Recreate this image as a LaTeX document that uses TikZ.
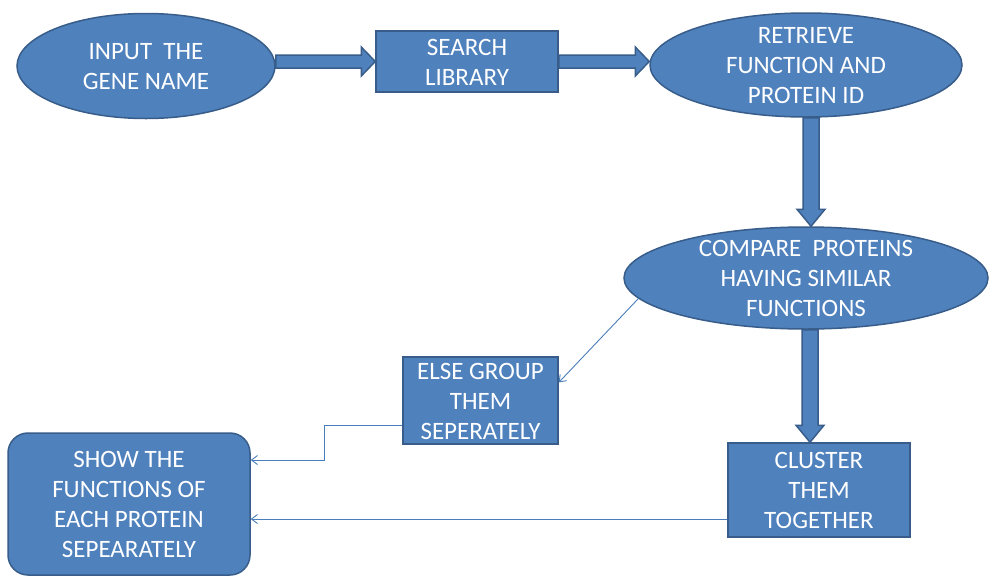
\documentclass[tikz,border=0pt]{standalone}
\usepackage{fontspec}
\setmainfont{Carlito}
\usetikzlibrary{shapes.geometric,arrows.meta,calc}

\definecolor{boxfill}{HTML}{4F81BD}
\definecolor{boxline}{HTML}{385D8A}
\definecolor{linkline}{HTML}{4A7EBB}

% centred multi-line label that does not enlarge its node
\newcommand\boxtext[1]{\makebox[0pt]{\raisebox{-8.8pt}[0pt][0pt]{\begin{tabular}{@{}c@{}}#1\end{tabular}}}}

% wide outlined block arrow pointing right, from #1 to #2
\newcommand\hblock[2]{%
  \path #1 coordinate (bs) #2 coordinate (bt);
  \draw[block] ($(bs)+(0,-6.5)$) -- ($(bt)+(-14,-6.5)$) -- ($(bt)+(-14,-14.5)$) -- (bt)
    -- ($(bt)+(-14,14.5)$) -- ($(bt)+(-14,6.5)$) -- ($(bs)+(0,6.5)$) -- cycle;}

% wide outlined block arrow pointing down, from #1 to #2
\newcommand\vblock[2]{%
  \path #1 coordinate (bs) #2 coordinate (bt);
  \draw[block] ($(bs)+(-8,0)$) -- ($(bt)+(-8,-17)$) -- ($(bt)+(-14,-17)$) -- (bt)
    -- ($(bt)+(14,-17)$) -- ($(bt)+(8,-17)$) -- ($(bs)+(8,0)$) -- cycle;}

\begin{document}
\begin{tikzpicture}[x=1pt,y=-1pt,
  base/.style={fill=boxfill, draw=boxline, line width=1.5pt, text=white,
    inner sep=0pt, font=\fontsize{25}{30}\selectfont},
  oval/.style={base, ellipse},
  box/.style={base, rectangle},
  roundbox/.style={base, rectangle, rounded corners=20pt},
  block/.style={fill=boxfill, draw=boxline, line width=1.5pt, line join=miter},
  link/.style={draw=linkline, line width=0.9pt, -{Straight Barb[length=6pt,width=9pt]}}]

  \fill[white] (0,0) rectangle (992,576);
  \useasboundingbox (0,0) rectangle (992,576);

  % process steps
  \node[oval, minimum width=258pt, minimum height=105pt] (input) at (146,66)
    {\boxtext{INPUT~~THE\\GENE NAME}};
  \node[box, minimum width=182pt, minimum height=61pt] (search) at (467,61.5)
    {\boxtext{SEARCH\\LIBRARY}};
  \node[oval, minimum width=312pt, minimum height=104pt] (retrieve) at (806,65)
    {\boxtext{RETRIEVE\\FUNCTION AND\\PROTEIN ID}};
  \node[oval, minimum width=364pt, minimum height=102pt] (compare) at (806,278)
    {\boxtext{COMPARE~~PROTEINS\\HAVING SIMILAR\\FUNCTIONS}};
  \node[box, minimum width=155pt, minimum height=87pt] (else) at (480.5,400.5)
    {\boxtext{ELSE GROUP\\THEM\\SEPERATELY}};
  \node[box, minimum width=182pt, minimum height=94pt] (cluster) at (819,490)
    {\boxtext{CLUSTER\\THEM\\TOGETHER}};
  \node[roundbox, minimum width=242pt, minimum height=142pt] (show) at (129,504)
    {\boxtext{SHOW THE\\FUNCTIONS OF\\EACH PROTEIN\\SEPEARATELY}};

  % main flow
  \hblock{(search.west -| input.east)}{(search.west)}
  \hblock{(search.east)}{(search.east -| retrieve.west)}
  \coordinate (r1) at ([xshift=5pt]retrieve.south);
  \vblock{(r1)}{(r1 |- compare.north)}
  \coordinate (c1) at ([xshift=4pt]compare.south);
  \vblock{(c1)}{(c1 |- cluster.north)}

  % side branches
  \draw[link] (compare.187) -- (else.13);
  \draw[link] (else.198) -- ++(-78,0) |- ([yshift=44pt]show.east);
  \coordinate (cl) at ([yshift=-29pt]cluster.west);
  \draw[link] (cl) -- (cl -| show.east);
\end{tikzpicture}
\end{document}
